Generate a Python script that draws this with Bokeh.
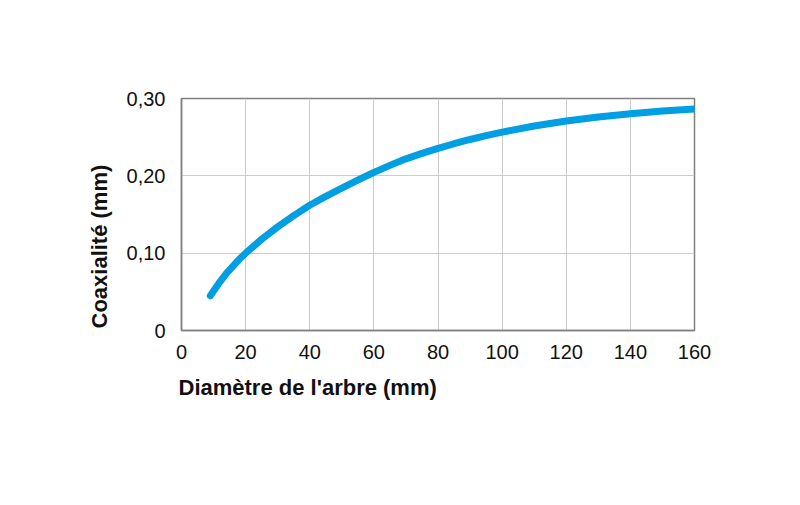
from bokeh.plotting import figure
from bokeh.models import Range1d, FixedTicker, CustomJSTickFormatter, Title
from bokeh.embed import file_html
from bokeh.resources import INLINE

diameter = [9, 10, 12, 14, 16, 18, 20, 25, 30, 35, 40, 45, 50, 55, 60, 65, 70, 75, 80, 85, 90, 95,
            100, 110, 120, 130, 140, 150, 160]
coaxiality = [0.045, 0.051, 0.063, 0.074, 0.083, 0.092, 0.100, 0.118, 0.134, 0.1485, 0.162, 0.1735,
              0.184, 0.1945, 0.2045, 0.2135, 0.222, 0.229, 0.2355, 0.2415, 0.247, 0.252,
              0.2565, 0.2645, 0.2710, 0.2762, 0.2804, 0.2838, 0.2864]
x_ticks = [0, 20, 40, 60, 80, 100, 120, 140, 160]
y_ticks = [0, 0.10, 0.20, 0.30]

FONT = "Liberation Sans"

p = figure(width=784, height=489, output_backend="svg", toolbar_location=None,
           x_range=Range1d(0, 160), y_range=Range1d(0, 0.30),
           min_border_left=181, min_border_right=90, min_border_top=98, min_border_bottom=159)
p.background_fill_color = "white"
p.border_fill_color = "white"
p.outline_line_color = "#808080"
p.outline_line_width = 1.5

p.line(diameter, coaxiality, line_color="#009FE3", line_width=7, line_cap="round", line_join="round")

p.xaxis.ticker = FixedTicker(ticks=x_ticks)
p.yaxis.ticker = FixedTicker(ticks=y_ticks)
p.yaxis.formatter = CustomJSTickFormatter(code="return tick == 0 ? '0' : tick.toFixed(2).replace('.', ',');")

for ax in (p.xaxis[0], p.yaxis[0]):
    ax.axis_line_color = "#808080"
    ax.axis_line_width = 1.5
    ax.major_tick_line_color = None
    ax.minor_tick_line_color = None
    ax.major_label_text_font = FONT
    ax.major_label_text_font_size = "20px"
    ax.major_label_text_color = "#111111"
p.xaxis.major_label_standoff = 8
p.yaxis.major_label_standoff = 10

p.xgrid.grid_line_color = "#cccccc"
p.ygrid.grid_line_color = "#cccccc"
p.xgrid.grid_line_width = 1
p.ygrid.grid_line_width = 1

xt = Title(text="Diamètre de l'arbre (mm)", align="left", offset=-3,
           text_font=FONT, text_font_size="22px", text_font_style="bold", text_color="#111111",
           standoff=22)
p.add_layout(xt, "below")
yt = Title(text="Coaxialité (mm)", align="left", offset=2,
           text_font=FONT, text_font_size="22px", text_font_style="bold", text_color="#111111",
           standoff=24)
p.add_layout(yt, "left")

open("out.html", "w").write(file_html(p, INLINE))
